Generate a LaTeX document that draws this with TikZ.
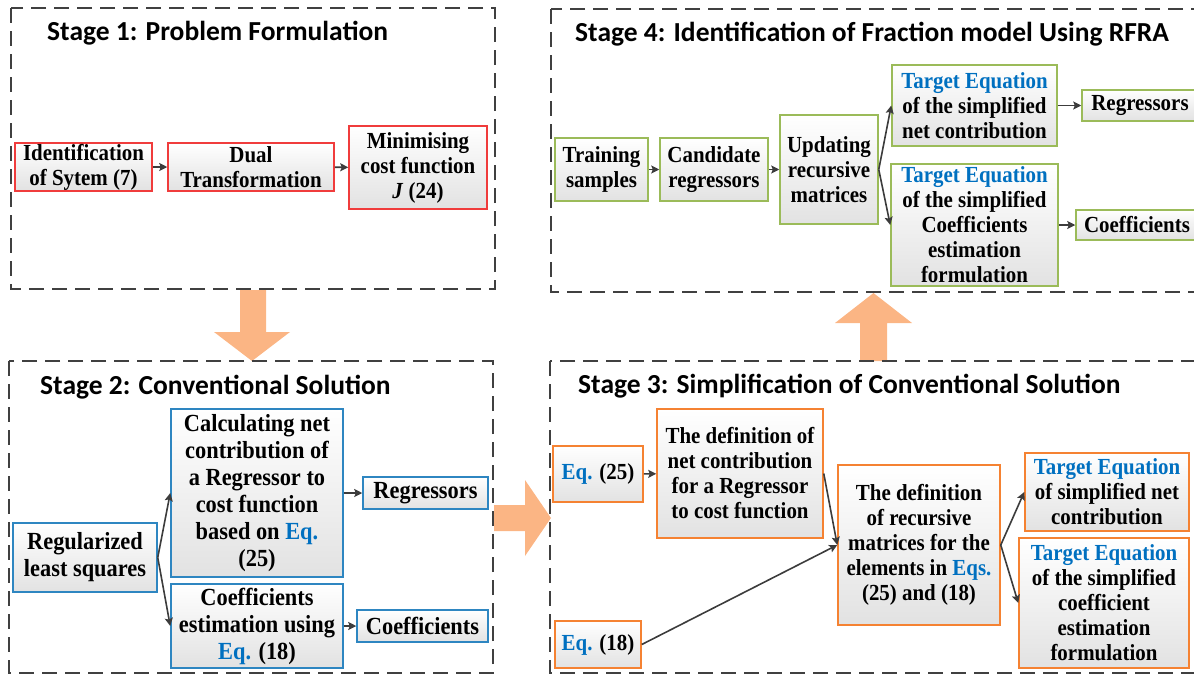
\documentclass[tikz,border=0pt]{standalone}
\usepackage{fontspec}
\setmainfont{Liberation Serif}
\newfontfamily\boxfont[FakeStretch=0.91]{Liberation Serif}
\newfontfamily\titlefont{Carlito}
\usetikzlibrary{arrows.meta}
\definecolor{cRed}{RGB}{240,60,60}
\definecolor{cGreen}{RGB}{155,187,89}
\definecolor{cBlue}{RGB}{46,134,193}
\definecolor{cOrange}{RGB}{245,130,50}
\definecolor{eqC}{RGB}{0,112,192}
\definecolor{bigC}{RGB}{251,181,132}
\definecolor{frameC}{RGB}{64,64,64}
\definecolor{arrC}{RGB}{60,60,60}
\definecolor{boxbot}{RGB}{226,226,226}
\newcommand{\eqb}[1]{\textcolor{eqC}{#1}}
\begin{document}
\begin{tikzpicture}[x=1pt,y=-1pt,
  nbox/.style={draw, line width=1.5pt, top color=white, bottom color=boxbot,
    align=center, inner sep=0pt, font=\boxfont\bfseries\fontsize{23}{25}\selectfont},
  rbox/.style={nbox, draw=cRed},
  gbox/.style={nbox, draw=cGreen},
  bbox/.style={nbox, draw=cBlue, font=\boxfont\bfseries\fontsize{24.6}{27}\selectfont},
  obox/.style={nbox, draw=cOrange},
  frame/.style={draw=frameC, line width=2.6pt, dash pattern=on 15pt off 8pt},
  stitle/.style={anchor=base west, inner sep=0pt, font=\titlefont\bfseries\fontsize{27.5}{33}\selectfont},
  conn/.style={draw=arrC, line width=1.6pt, -{Stealth[length=8pt,width=8pt,inset=1.5pt]}},
  big/.style={fill=bigC, draw=none}]
\useasboundingbox (0,0) rectangle (1194,678);

% big block arrows
\fill[big] (240,290) -- (266,290) -- (266,332) -- (290,332) -- (252,361) -- (214,332) -- (240,332) -- cycle;
\fill[big] (494,505) -- (525,505) -- (525,480) -- (551,518) -- (525,556) -- (525,531) -- (494,531) -- cycle;
\fill[big] (860,361) -- (887,361) -- (887,323) -- (912,323) -- (873.5,293) -- (835,323) -- (860,323) -- cycle;

% frames
\draw[frame] (11,8) rectangle (495,289);
\draw[frame] (551,9) rectangle (1205,292);
\draw[frame] (9,361) rectangle (493,673);
\draw[frame] (550,361) rectangle (1205,673);

% titles
\node[stitle] (t1) at (47,40) {Stage 1: Problem Formulation};
\node[stitle] (t4) at (575,41) {Stage 4: Identification of Fraction model Using RFRA};
\node[stitle] (t2) at (40,394) {Stage 2: Conventional Solution};
\node[stitle] (t3) at (578,393) {Stage 3: Simplification of Conventional Solution};

% Stage 1
\node[rbox, minimum width=137pt, minimum height=48pt] (id) at (83.5,167) {Identification\\of Sytem (7)};
\node[rbox, minimum width=166pt, minimum height=48pt] (dual) at (251,167) {Dual\\Transformation};
\node[rbox, minimum width=138pt, minimum height=83pt] (min) at (418,167.5) {Minimising\\cost function\\\textit{J} (24)};
\draw[conn] (id) -- (dual);
\draw[conn] (dual) -- (min);

% Stage 4
\node[gbox, minimum width=93pt, minimum height=63pt] (train) at (601.5,169.5) {Training\\samples};
\node[gbox, minimum width=108pt, minimum height=63pt] (cand) at (714,169.5) {Candidate\\regressors};
\node[gbox, minimum width=98pt, minimum height=109pt] (upd) at (829,169.5) {Updating\\recursive\\matrices};
\node[gbox, minimum width=165pt, minimum height=81pt] (ta) at (974.5,105.5) {\eqb{Target Equation}\\of the simplified\\net contribution};
\node[gbox, minimum width=116pt, minimum height=31pt] (rg4) at (1140,105.5) {Regressors};
\node[gbox, minimum width=167pt, minimum height=122pt] (tb) at (974.5,225) {\eqb{Target Equation}\\of the simplified\\Coefficients\\estimation\\formulation};
\node[gbox, minimum width=122pt, minimum height=30pt] (cf4) at (1137,225) {Coefficients};
\draw[conn] (train) -- (cand);
\draw[conn] (cand) -- (upd);
\draw[conn] (upd.east) -- (ta.west);
\draw[conn] (upd.east) -- (tb.west);
\draw[conn] (ta) -- (ta.east -| rg4.west);
\draw[conn] (tb) -- (tb.east -| cf4.west);

% Stage 2
\node[bbox, minimum width=144pt, minimum height=69pt] (rls) at (85,557.5) {Regularized\\least squares};
\node[bbox, minimum width=172pt, minimum height=168pt] (calc) at (257,493) {Calculating net\\contribution of\\a Regressor to\\cost function\\based on \eqb{Eq.}\\(25)};
\node[bbox, minimum width=125pt, minimum height=32pt] (rg2) at (425.5,493) {Regressors};
\node[bbox, minimum width=172pt, minimum height=84pt] (ce) at (257,626) {Coefficients\\estimation using\\\eqb{Eq.} (18)};
\node[bbox, minimum width=131pt, minimum height=32pt] (cf2) at (422.5,626) {Coefficients};
\draw[conn] (rls.east) -- (calc.west);
\draw[conn] (rls.east) -- (ce.west);
\draw[conn] (calc) -- (rg2);
\draw[conn] (ce) -- (cf2);

% Stage 3
\node[obox, minimum width=90pt, minimum height=56pt] (e25) at (598,474) {\eqb{Eq.} (25)};
\node[obox, minimum width=166pt, minimum height=129pt] (def) at (740,473.5) {The definition of\\net contribution\\for a Regressor\\to cost function};
\node[obox, minimum width=86pt, minimum height=47pt] (e18) at (598,644.5) {\eqb{Eq.} (18)};
\node[obox, minimum width=162pt, minimum height=160pt] (rec) at (919,545) {The definition\\of recursive\\matrices for the\\elements in \eqb{Eqs.}\\(25) and (18)};
\node[obox, minimum width=164pt, minimum height=78pt] (tc) at (1107,492) {\eqb{Target Equation}\\of simplified net\\contribution};
\node[obox, minimum width=170pt, minimum height=130pt] (td) at (1104,603) {\eqb{Target Equation}\\of the simplified\\coefficient\\estimation\\formulation};
\draw[conn] (e25) -- (def);
\draw[conn] (def.east) -- (rec.west);
\draw[conn] (e18.east) -- (rec.west);
\draw[conn] (rec.east) -- (tc.west);
\draw[conn] (rec.east) -- (td.west);
\end{tikzpicture}
\end{document}
